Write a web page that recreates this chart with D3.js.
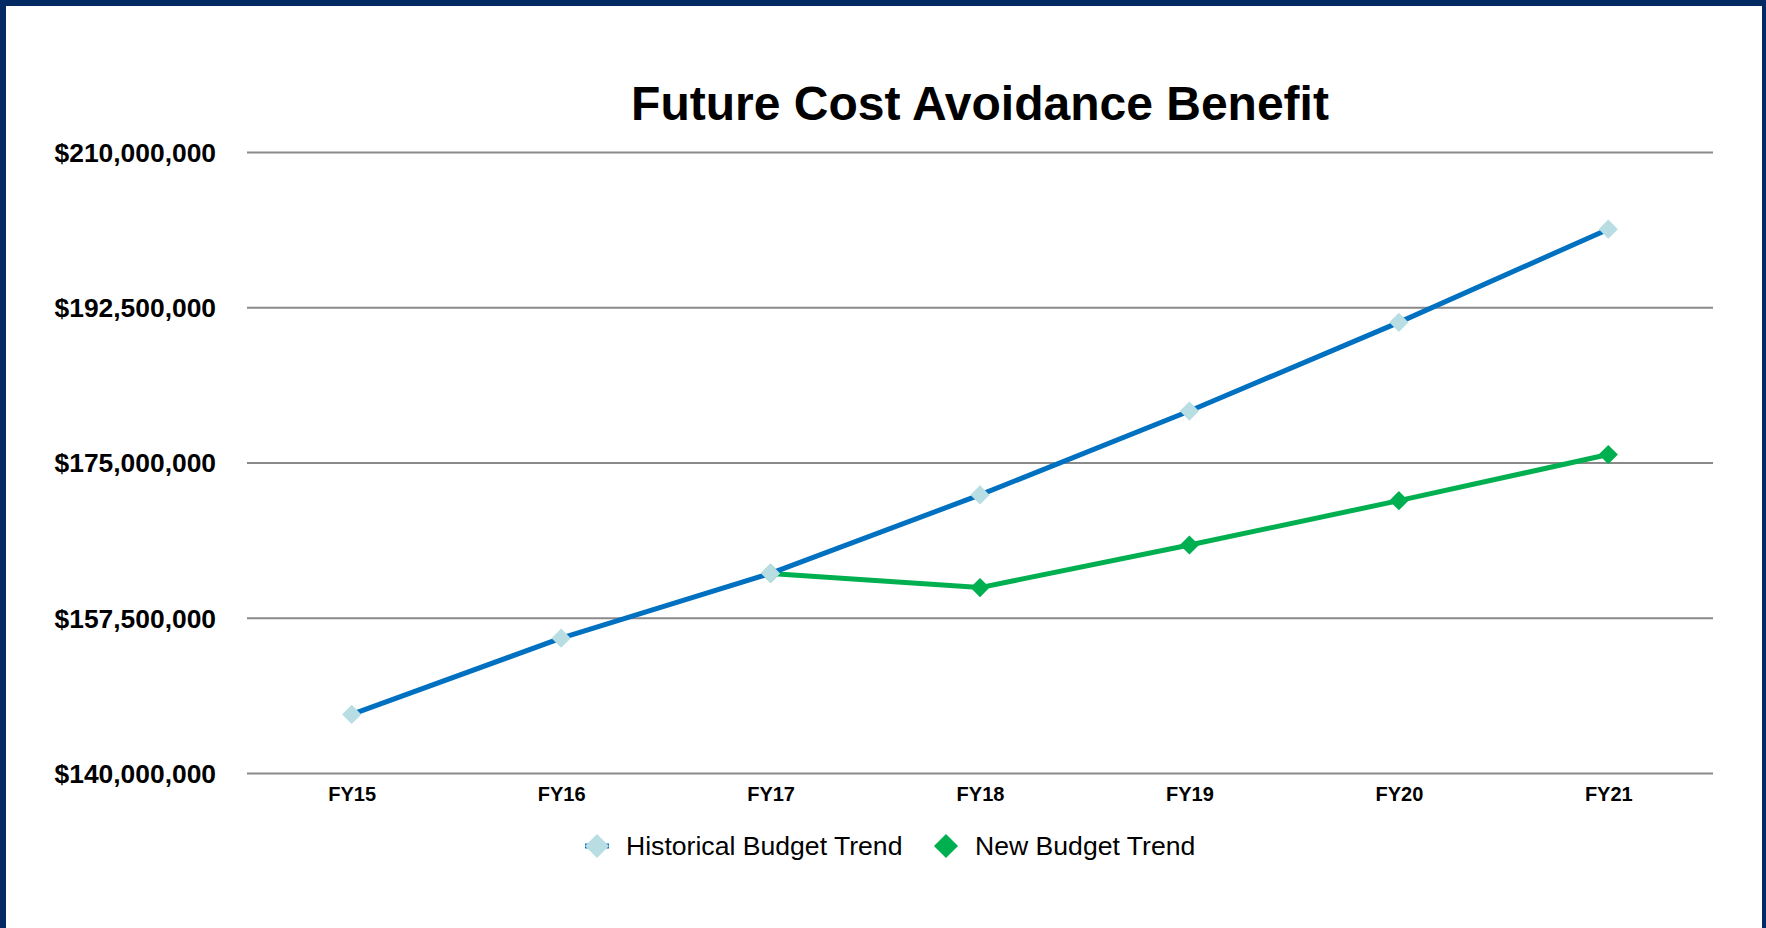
<!DOCTYPE html>
<html>
<head>
<meta charset="utf-8">
<title>Future Cost Avoidance Benefit</title>
<script src="https://cdn.jsdelivr.net/npm/d3@7"></script>
<style>
  html, body { margin: 0; padding: 0; background: #ffffff; }
  svg { display: block; font-family: "Liberation Sans", Arial, sans-serif; }
</style>
</head>
<body>
<svg id="chart" width="1766" height="928"></svg>
<script>
// Fiscal years on the x axis
const fiscalYears = ["FY15", "FY16", "FY17", "FY18", "FY19", "FY20", "FY21"];

// Budget projections in dollars (null where a series has no value)
const historicalTrend = [146600000, 155200000, 162500000, 171350000, 180800000, 190800000, 201300000];
const newTrend = [null, null, 162500000, 160900000, 165700000, 170700000, 175900000];

// Gridline / label values on the y axis
const yTicks = [140000000, 157500000, 175000000, 192500000, 210000000];

const seriesNames = ["Historical Budget Trend", "New Budget Trend"];

const W = 1766, H = 928;
const margin = { left: 247, right: 53, top: 152, bottom: 155 };
const plotW = W - margin.left - margin.right;
const plotH = H - margin.top - margin.bottom;

const svg = d3.select("#chart");

// Frame: navy bands on the left, top and right edges
const navy = "#032a63";
svg.append("rect").attr("x", 0).attr("y", 0).attr("width", W).attr("height", 6).attr("fill", navy);
svg.append("rect").attr("x", 0).attr("y", 0).attr("width", 6).attr("height", H).attr("fill", navy);
svg.append("rect").attr("x", W - 4).attr("y", 0).attr("width", 4).attr("height", H).attr("fill", navy);

const x = d3.scalePoint().domain(fiscalYears).range([0, plotW]).padding(0.5);
const y = d3.scaleLinear().domain([140000000, 210000000]).range([plotH, 0]);

const g = svg.append("g").attr("transform", `translate(${margin.left},${margin.top})`);

// Horizontal gridlines
const grid = g.append("g")
  .call(d3.axisLeft(y).tickValues(yTicks).tickSize(-plotW).tickFormat(""));
grid.select(".domain").remove();
grid.selectAll(".tick line").attr("stroke", "#8a8a8a").attr("stroke-width", 2.2);

// Y-axis dollar labels
const fmt = d3.format(",");
const yAxis = g.append("g")
  .call(d3.axisLeft(y).tickValues(yTicks).tickSize(0).tickPadding(31).tickFormat(d => "$" + fmt(d)));
yAxis.select(".domain").remove();
yAxis.selectAll("text")
  .attr("font-family", "'Liberation Sans', Arial, sans-serif")
  .attr("font-size", 26.4).attr("font-weight", "bold").attr("fill", "#000")
  .attr("dy", "0.35em");

// X-axis category labels
const xAxis = g.append("g").attr("transform", `translate(0,${plotH})`)
  .call(d3.axisBottom(x).tickSize(0).tickPadding(0));
xAxis.select(".domain").remove();
xAxis.selectAll("text")
  .attr("font-family", "'Liberation Sans', Arial, sans-serif")
  .attr("font-size", 20).attr("font-weight", "bold").attr("fill", "#000")
  .attr("y", 28).attr("dy", 0);

const blue = "#0070c0", green = "#00b050", pale = "#b8dde2";

const line = d3.line()
  .defined(d => d.v != null)
  .x(d => x(d.k))
  .y(d => y(d.v));

const histData = fiscalYears.map((k, i) => ({ k, v: historicalTrend[i] }));
const newData = fiscalYears.map((k, i) => ({ k, v: newTrend[i] }));

const marker = d3.symbol().type(d3.symbolSquare).size(185);
const legendMarker = d3.symbol().type(d3.symbolSquare).size(290);

// New budget series
g.append("path").datum(newData)
  .attr("fill", "none").attr("stroke", green).attr("stroke-width", 5)
  .attr("stroke-linejoin", "round").attr("d", line);
g.append("g").selectAll("path").data(newData.filter(d => d.v != null)).join("path")
  .attr("d", marker)
  .attr("transform", d => `translate(${x(d.k)},${y(d.v)}) rotate(45)`)
  .attr("fill", green);

// Historical series
g.append("path").datum(histData)
  .attr("fill", "none").attr("stroke", blue).attr("stroke-width", 5)
  .attr("stroke-linejoin", "round").attr("d", line);
g.append("g").selectAll("path").data(histData).join("path")
  .attr("d", marker)
  .attr("transform", d => `translate(${x(d.k)},${y(d.v)}) rotate(45)`)
  .attr("fill", pale);

// Title
svg.append("text")
  .attr("x", 980).attr("y", 120)
  .attr("text-anchor", "middle")
  .attr("font-size", 48).attr("font-weight", "bold").attr("fill", "#000")
  .text("Future Cost Avoidance Benefit");

// Legend
const legend = svg.append("g").attr("transform", "translate(0,846)");
const legendItems = [
  { name: seriesNames[0], x: 597, line: blue, fill: pale },
  { name: seriesNames[1], x: 946, line: null, fill: green }
];
legendItems.forEach(it => {
  if (it.line) {
    legend.append("line")
      .attr("x1", it.x - 12).attr("x2", it.x + 12).attr("y1", 0).attr("y2", 0)
      .attr("stroke", it.line).attr("stroke-width", 5);
  }
  legend.append("path")
    .attr("d", legendMarker)
    .attr("transform", `translate(${it.x},0) rotate(45)`)
    .attr("fill", it.fill);
  legend.append("text")
    .attr("x", it.x + 29).attr("y", 0).attr("dy", "0.35em")
    .attr("font-size", 26.6).attr("fill", "#000")
    .text(it.name);
});
</script>
</body>
</html>
